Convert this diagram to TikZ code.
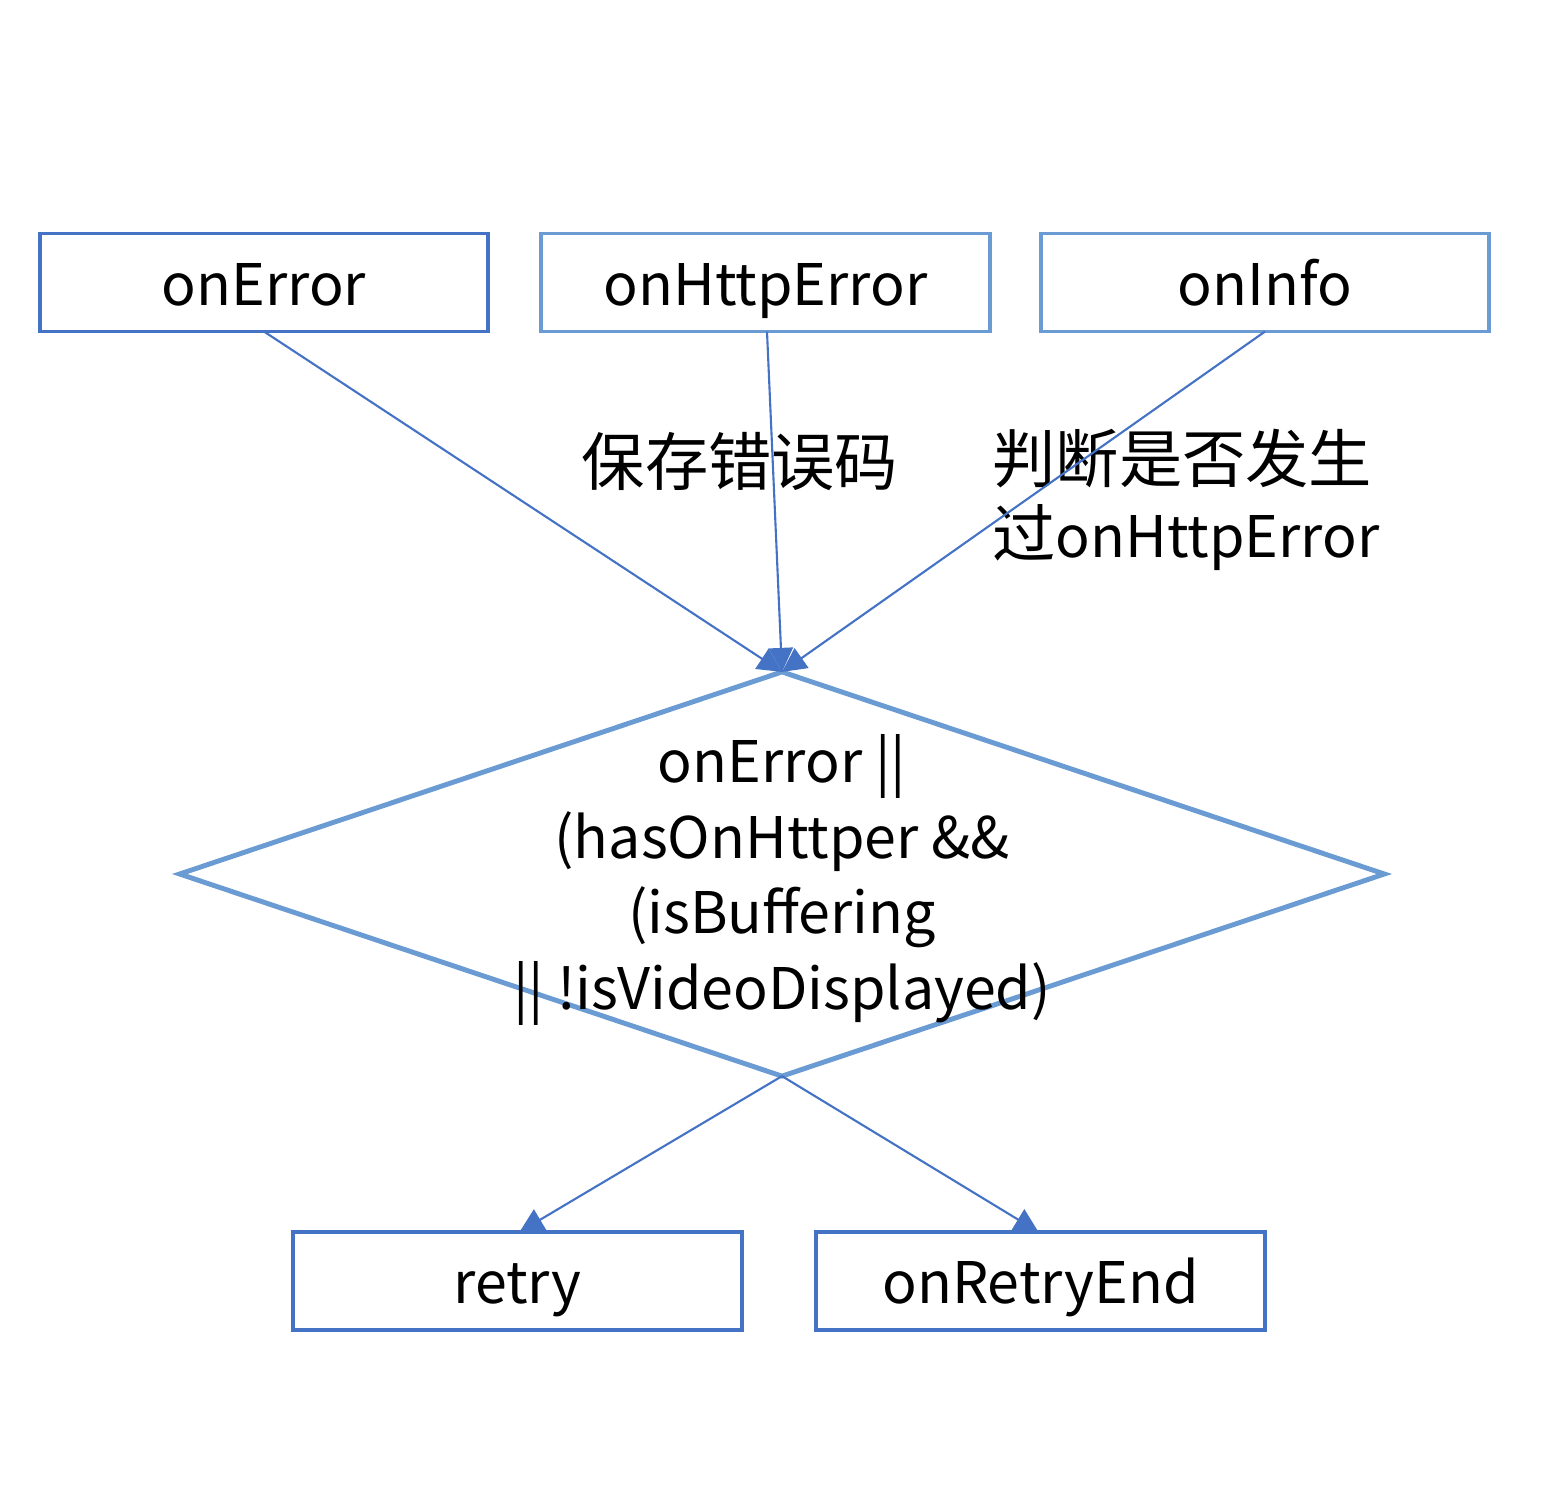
\documentclass[tikz,border=0pt]{standalone}
\usepackage{fontspec}
\setmainfont{Noto Sans CJK SC}
\usepackage{xcolor}
\usepackage{tikz}
\usetikzlibrary{arrows.meta}
\usetikzlibrary{shapes.geometric}
\definecolor{boxblue}{HTML}{4472C4}
\definecolor{lineblue}{HTML}{6A9BD3}
\newcommand{\zh}[1]{{\fontsize{18}{21.5}\selectfont #1}}
\tikzstyle{box} = [rectangle, draw = boxblue, line width = 1.1pt, minimum width = 4.48cm, minimum height = 0.98cm, inner sep = 0pt, outer sep = 0pt, text height = 0.5cm, text depth = 0.05cm]
\tikzstyle{lbox} = [box, draw = lineblue]
\tikzstyle{arr} = [-{Triangle[length = 0.24cm, width = 0.24cm]}, draw = boxblue, line width = 0.6pt]
\tikzstyle{txt} = [font = \fontsize{16.3}{21.5}\selectfont]

\begin{document}
\begin{tikzpicture}[x = 0.01cm, y = -0.01cm, txt]
\useasboundingbox (0, 0) rectangle (1562, 1502);
\node [box] (E) at (264, 282.5) {onError};
\node [lbox] (H) at (765.5, 282.5) {onHttpError};
\node [lbox] (I) at (1265, 282.5) {onInfo};
\node [diamond, draw = lineblue, line width = 1.4pt, minimum width = 12.04cm, minimum height = 4.04cm, inner sep = 0pt, outer sep = 0pt] (D) at (782, 874) {};
\node [align = center] (T) at (782, 880) {onError ||\\(hasOnHttper \&\&\\(isBuffering\\|| !isVideoDisplayed)};
\node [box] (R) at (517.5, 1281) {retry};
\node [box] (RE) at (1040.5, 1281) {onRetryEnd};
\node (L1) at (740, 462) {\zh{保存错误码}};
\node [align = left, anchor = west] (L2) at (980, 500) {\zh{判断是否发生}\\\zh{过}onHttpError};
\draw [arr] (E.south) -- (D.north);
\draw [arr] ([xshift = 0.015cm]H.south) -- (D.north);
\draw [arr] (I.south) -- (D.north);
\draw [arr] (D.south) -- ([xshift = 0.02cm]R.north);
\draw [arr] (D.south) -- ([xshift = -0.02cm]RE.north);
\end{tikzpicture}
\end{document}
